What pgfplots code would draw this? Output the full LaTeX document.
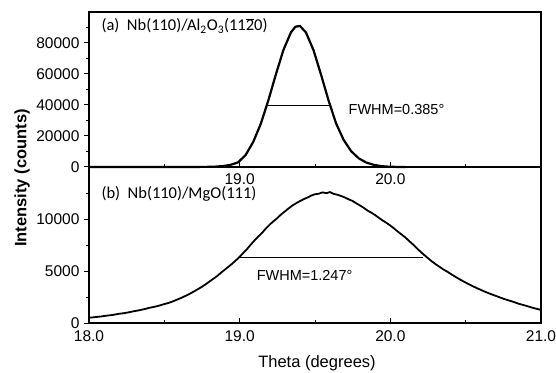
\documentclass[border=0pt]{standalone}
\usepackage{pgfplots}
\pgfplotsset{compat=1.18}
\usepackage{fontspec}
\setmainfont{Liberation Sans}
\newfontfamily\annfont{Carlito}
\pgfplotstableread{
x y
18.00 0
18.60 0
18.70 40
18.79 100
18.84 250
18.89 600
18.94 1400
18.99 3000
19.04 7800
19.09 16200
19.14 27800
19.19 42900
19.24 59600
19.29 75400
19.34 86800
19.37 90500
19.40 91000
19.44 86800
19.49 75400
19.54 59600
19.59 42900
19.64 28100
19.69 17500
19.74 10200
19.79 5600
19.84 2900
19.89 1400
19.94 550
19.99 200
20.04 60
20.10 0
}\topdata
\pgfplotstableread{
x y
18.000 510
18.025 540
18.050 580
18.075 620
18.100 670
18.125 720
18.150 760
18.175 820
18.200 890
18.225 930
18.250 990
18.275 1060
18.300 1140
18.325 1200
18.350 1280
18.375 1360
18.400 1460
18.425 1530
18.450 1610
18.475 1710
18.500 1820
18.525 1920
18.550 2040
18.575 2190
18.600 2340
18.625 2500
18.650 2670
18.675 2860
18.700 3060
18.725 3270
18.750 3490
18.775 3730
18.800 3990
18.825 4250
18.850 4510
18.875 4820
18.900 5110
18.925 5400
18.950 5700
18.975 6030
19.000 6360
19.025 6760
19.050 7130
19.075 7560
19.100 7960
19.125 8340
19.150 8690
19.175 9100
19.200 9470
19.225 9790
19.250 10090
19.275 10440
19.300 10730
19.325 11020
19.350 11300
19.375 11520
19.400 11720
19.425 11910
19.450 12060
19.475 12250
19.500 12380
19.525 12430
19.550 12560
19.575 12480
19.600 12590
19.625 12410
19.650 12330
19.675 12200
19.700 12060
19.725 11880
19.750 11730
19.775 11500
19.800 11290
19.825 11060
19.850 10800
19.875 10600
19.900 10370
19.925 10100
19.950 9850
19.975 9620
20.000 9370
20.025 9090
20.050 8780
20.075 8510
20.100 8220
20.125 7880
20.150 7560
20.175 7200
20.200 6860
20.225 6540
20.250 6230
20.275 5930
20.300 5660
20.325 5420
20.350 5170
20.375 4960
20.400 4730
20.425 4500
20.450 4290
20.475 4080
20.500 3890
20.525 3700
20.550 3520
20.575 3350
20.600 3190
20.625 3030
20.650 2880
20.675 2740
20.700 2610
20.725 2470
20.750 2340
20.775 2220
20.800 2110
20.825 1990
20.850 1860
20.875 1760
20.900 1660
20.925 1550
20.950 1440
20.975 1350
21.000 1260
}\botdata
\pgfplotsset{
  panel/.style={
    scale only axis, width=452pt,
    xmin=18, xmax=21,
    xtick={18,19,20,21}, minor xtick={18.5,19.5,20.5},
    xtick pos=bottom, ytick pos=left,
    xtick align=inside, ytick align=outside,
    major tick length=5pt, minor tick length=3pt,
    axis line style={line width=1.2pt},
    every tick/.style={black, line width=1pt},
    tick label style={font=\fontsize{15.5}{15.5}\selectfont},
    /pgf/number format/assume math mode=true,
    /pgf/number format/set thousands separator={},
    scaled y ticks=false,
    clip=false,
  }
}
\begin{document}
\begin{tikzpicture}
\path[use as bounding box] (-89pt,-49pt) rectangle (467pt,323pt);
\begin{axis}[panel, name=bot, at={(0pt,0pt)}, anchor=south west, height=156pt,
  ymin=0, ymax=15000, ytick={0,5000,10000}, minor ytick={2500,7500,12500},
  xticklabels={18.0,19.0,20.0,21.0},
  xticklabel style={yshift=-4.5pt},
  yticklabel style={xshift=-1pt}]
\addplot[black, line width=1.8pt] table[x=x,y=y]{\botdata};
\addplot[black, line width=0.9pt] coordinates {(19.0,6270) (20.214,6270)};
\node[anchor=west, font=\fontsize{14.5}{14.5}\selectfont] at (axis cs:19.09,4590) {FWHM=1.247°};
\node[anchor=west, font=\annfont\fontsize{16.5}{16.5}\selectfont] at (axis cs:18.06,12400) {(b)\ \ Nb(110)/MgO(111)};
\end{axis}
\begin{axis}[panel, at={(bot.north west)}, anchor=south west, height=155pt,
  ymin=0, ymax=100000, ytick={0,20000,40000,60000,80000}, minor ytick={10000,30000,50000,70000,90000},
  xticklabels={,19.0,20.0,},
  xticklabel style={yshift=-3pt},
  yticklabel style={xshift=-1pt}]
\addplot[black, line width=2.2pt] table[x=x,y=y]{\topdata};
\addplot[black, line width=0.9pt] coordinates {(19.176,40000) (19.596,40000)};
\node[anchor=west, font=\fontsize{14.5}{14.5}\selectfont] at (axis cs:19.70,36800) {FWHM=0.385°};
\node[anchor=west, font=\annfont\fontsize{16.5}{16.5}\selectfont] at (axis cs:18.06,91000) {(a)\ \ Nb(110)/Al\textsubscript{2}O\textsubscript{3}(11$\overline{\mbox{2}}$0)};
\end{axis}
\node[rotate=90, font=\bfseries\fontsize{16.5}{16.5}\selectfont] at (-67pt,145pt) {Intensity (counts)};
\node[font=\fontsize{16.5}{16.5}\selectfont] at (228pt,-40pt) {Theta (degrees)};
\end{tikzpicture}
\end{document}
